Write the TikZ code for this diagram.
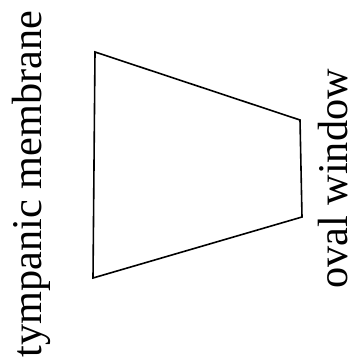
\documentclass[tikz,border=0pt]{standalone}
\usepackage{fontspec}
\setmainfont{Liberation Serif}
\begin{document}
\begin{tikzpicture}[x=1pt,y=-1pt,
  lbl/.style={rotate=90,font=\fontsize{42.3}{44}\selectfont,inner sep=0pt,anchor=base},
  edge/.style={draw=black,line width=1.6pt,line join=miter}]
\useasboundingbox (0,0) rectangle (356,358);
\coordinate (tl) at (95,52);
\coordinate (bl) at (93,278);
\coordinate (br) at (302,217);
\coordinate (tr) at (300,120);
\draw[edge] (tl) -- (bl) -- (br) -- (tr) -- cycle;
\node[lbl] (tm) at (41,184) {tympanic membrane};
\node[lbl] (ow) at (347,179) {oval window};
\end{tikzpicture}
\end{document}
